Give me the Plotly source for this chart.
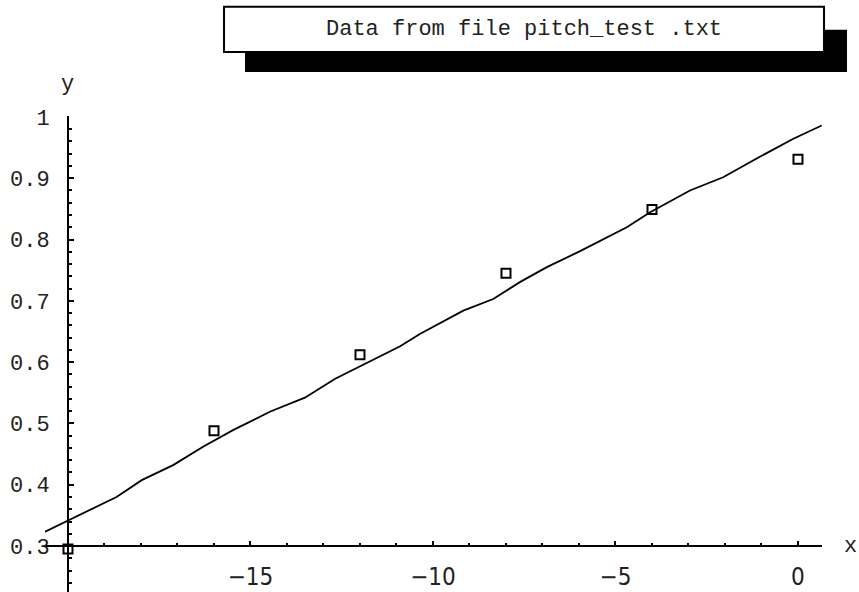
import plotly.graph_objects as go

# Data points (squares)
point_x = [-20, -16, -12, -8, -4, 0]
point_y = [0.295, 0.488, 0.612, 0.745, 0.849, 0.931]

# Fitted / interpolated curve
line_x = [-20.68, -20.03, -18.67, -17.98, -17.12, -16.30, -15.48, -14.47, -13.51,
          -12.68, -11.82, -10.90, -10.36, -9.17, -8.35, -7.62, -6.88, -5.97,
          -4.69, -4.05, -2.96, -2.05, -1.23, -0.14, 0.65]
line_y = [0.322, 0.341, 0.380, 0.4075, 0.432, 0.462, 0.489, 0.519, 0.542,
          0.573, 0.598, 0.626, 0.646, 0.684, 0.703, 0.7305, 0.755, 0.781,
          0.820, 0.8445, 0.880, 0.9015, 0.929, 0.964, 0.986]

x_tick_vals = [-15, -10, -5, 0]
x_tick_text = ["\u221215", "\u221210", "\u22125", "0"]
y_tick_vals = [0.3, 0.4, 0.5, 0.6, 0.7, 0.8, 0.9, 1.0]
y_tick_text = ["0.3", "0.4", "0.5", "0.6", "0.7", "0.8", "0.9", "1"]

title_text = "Data from file pitch_test .txt"

X_RANGE = [-20.63, 0.658]
Y_RANGE = [0.225, 1.0015]
ORIGIN_X, ORIGIN_Y = -20, 0.3

mono = "Liberation Mono, Courier New, monospace"
narrow = "Liberation Sans Narrow, DejaVu Sans Condensed, Arial Narrow, sans-serif"

fig = go.Figure()
fig.add_trace(go.Scatter(x=line_x, y=line_y, mode="lines",
                         line=dict(color="black", width=1.8), hoverinfo="skip"))
fig.add_trace(go.Scatter(x=point_x, y=point_y, mode="markers",
                         marker=dict(symbol="square-open", size=9, color="black",
                                     line=dict(width=2, color="black")),
                         cliponaxis=False))

xpos = (ORIGIN_Y - Y_RANGE[0]) / (Y_RANGE[1] - Y_RANGE[0])
ypos = (ORIGIN_X - X_RANGE[0]) / (X_RANGE[1] - X_RANGE[0])

fig.update_layout(
    width=859, height=592,
    margin=dict(l=45, r=37, t=116, b=0),
    paper_bgcolor="white", plot_bgcolor="white",
    showlegend=False,
    xaxis=dict(range=X_RANGE, anchor="free", position=xpos, showgrid=False,
               zeroline=False, showline=True, linecolor="black", linewidth=2,
               tickvals=x_tick_vals, ticktext=x_tick_text, ticks="inside",
               ticklen=4, tickwidth=1.5, tickcolor="black",
               ticklabelstandoff=9,
               tickfont=dict(family=narrow, size=24, color="#222"),
               minor=dict(dtick=1, tick0=0, ticks="inside", ticklen=2.5,
                          tickwidth=1.5, tickcolor="black"),
               automargin=False, fixedrange=True),
    yaxis=dict(range=Y_RANGE, anchor="free", position=ypos, showgrid=False,
               zeroline=False, showline=True, linecolor="black", linewidth=2,
               tickvals=y_tick_vals, ticktext=y_tick_text, ticks="inside",
               ticklen=5, tickwidth=1.5, tickcolor="black",
               ticklabelstandoff=13,
               tickfont=dict(family=mono, size=22, color="#222"),
               minor=dict(dtick=0.02, tick0=0, ticks="inside", ticklen=3,
                          tickwidth=1.5, tickcolor="black"),
               automargin=False, fixedrange=True),
)

# Title box with drop shadow (paper coordinates)
fig.add_shape(type="rect", xref="paper", yref="paper",
              x0=0.2574, x1=1.0322, y0=1.0926, y1=1.1811,
              fillcolor="black", line=dict(width=0), layer="above")
fig.add_shape(type="rect", xref="paper", yref="paper",
              x0=0.2304, x1=1.0026, y0=1.1347, y1=1.2295,
              fillcolor="white", line=dict(color="black", width=2), layer="above")
fig.add_annotation(text=title_text, xref="paper", yref="paper",
                   x=0.6165, y=1.182, xanchor="center", yanchor="middle",
                   showarrow=False,
                   font=dict(family=mono, size=22, color="#222"))

# Axis labels
fig.add_annotation(text="y", xref="x", yref="paper", x=ORIGIN_X, y=1.067,
                   xanchor="center", yanchor="middle",
                   showarrow=False, font=dict(family=mono, size=22, color="#222"))
fig.add_annotation(text="x", xref="paper", yref="y", x=1.037, y=ORIGIN_Y,
                   xanchor="center", yanchor="middle",
                   showarrow=False, font=dict(family=mono, size=22, color="#222"))

fig.write_html("out.html")
